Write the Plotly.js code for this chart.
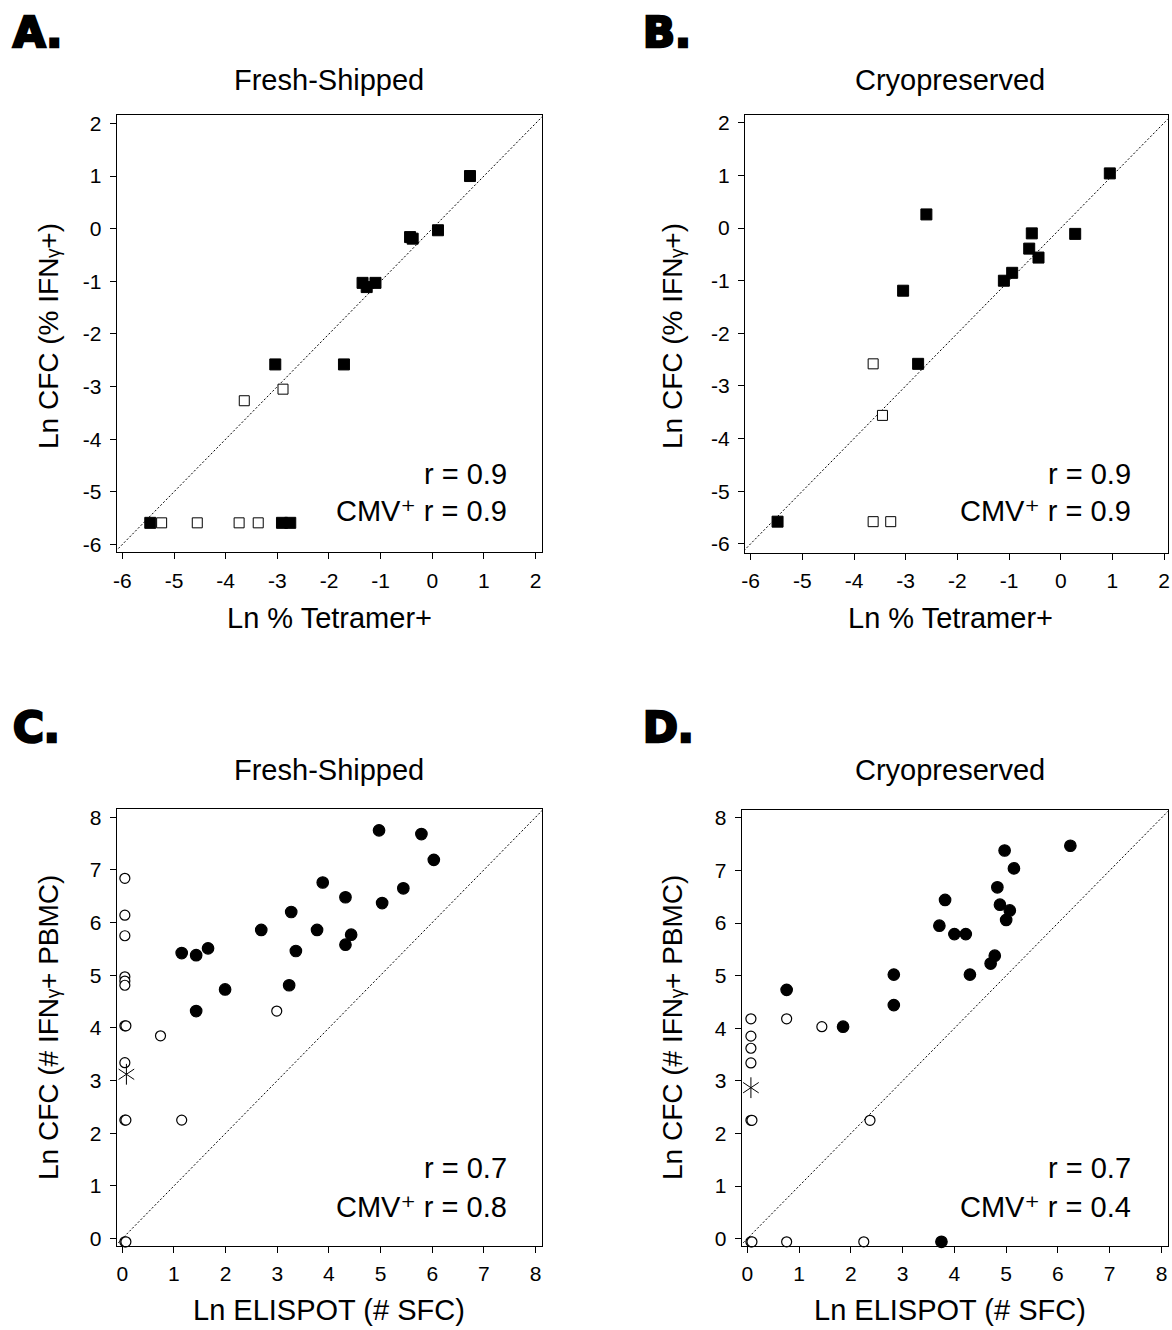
<!DOCTYPE html>
<html>
<head>
<meta charset="utf-8">
<script src="https://cdn.plot.ly/plotly-3.0.1.min.js"></script>
<style>html,body{margin:0;padding:0;background:#fff;}#chart{width:1172px;height:1330px;}</style>
</head>
<body>
<div id="chart"></div>
<script>
// ---------- DATA ----------
// Panel A: Fresh-Shipped, Ln % Tetramer+ vs Ln CFC (% IFNγ+)
const aFilledX = [0.73, 0.11, -0.43, -0.38, -1.35, -1.27, -1.10, -3.04, -1.71, -5.46, -2.91, -2.75];
const aFilledY = [1.00, -0.03, -0.16, -0.19, -1.03, -1.11, -1.03, -2.58, -2.58, -5.59, -5.59, -5.59];
const aOpenX = [-3.64, -2.89, -5.24, -4.55, -3.74, -3.37];
const aOpenY = [-3.27, -3.05, -5.59, -5.59, -5.59, -5.59];
// Panel B: Cryopreserved
const bFilledX = [0.95, -2.60, -0.56, 0.28, -0.61, -0.43, -0.94, -1.10, -3.05, -2.76, -5.48];
const bFilledY = [1.04, 0.26, -0.10, -0.11, -0.39, -0.56, -0.85, -1.00, -1.19, -2.58, -5.58];
const bOpenX = [-3.63, -3.45, -3.63, -3.29];
const bOpenY = [-2.58, -3.56, -5.58, -5.58];
// Panel C: Fresh-Shipped, Ln ELISPOT vs Ln CFC (# IFNγ+ PBMC)
const cFilledX = [4.97, 5.79, 6.03, 3.88, 5.44, 4.32, 5.03, 3.27, 2.69, 3.77, 4.43, 4.32, 3.36, 1.66, 1.15, 1.43, 1.99, 3.23, 1.43];
const cFilledY = [7.75, 7.68, 7.19, 6.76, 6.65, 6.48, 6.37, 6.20, 5.86, 5.86, 5.77, 5.58, 5.46, 5.51, 5.42, 5.38, 4.73, 4.81, 4.32];
const cOpenX = [0.05, 0.05, 0.05, 0.05, 0.05, 0.05, 0.05, 0.07, 0.05, 0.05, 0.07, 0.05, 0.07, 0.74, 1.15, 2.99];
const cOpenY = [6.84, 6.14, 5.75, 4.97, 4.89, 4.81, 4.04, 4.04, 3.34, 2.25, 2.25, -0.06, -0.06, 3.85, 2.25, 4.32];
const cStarX = [0.08];
const cStarY = [3.12];
// Panel D: Cryopreserved
const dFilledX = [6.24, 4.97, 5.15, 4.83, 3.82, 4.88, 5.07, 5.00, 3.71, 4.00, 4.22, 4.78, 4.70, 2.83, 4.30, 0.76, 2.83, 1.85, 3.75];
const dFilledY = [7.47, 7.38, 7.04, 6.68, 6.44, 6.35, 6.24, 6.06, 5.95, 5.79, 5.79, 5.38, 5.23, 5.02, 5.02, 4.73, 4.44, 4.03, -0.06];
const dOpenX = [0.07, 0.76, 1.44, 0.07, 0.07, 0.07, 0.07, 0.09, 2.37, 0.07, 0.09, 0.76, 2.25];
const dOpenY = [4.18, 4.18, 4.03, 3.85, 3.62, 3.34, 2.25, 2.25, 2.25, -0.06, -0.06, -0.06, -0.06];
const dStarX = [0.07];
const dStarY = [2.87];
// identity line endpoints
const idTop = [-7, 3];
const idBottom = [-1, 9];
// tick labels
const tickValsTop = [-6, -5, -4, -3, -2, -1, 0, 1, 2];
const tickTextTop = ['-6', '-5', '-4', '-3', '-2', '-1', '0', '1', '2'];
const tickValsBottom = [0, 1, 2, 3, 4, 5, 6, 7, 8];
const tickTextBottom = ['0', '1', '2', '3', '4', '5', '6', '7', '8'];
// texts
const panelLetters = ['A.', 'B.', 'C.', 'D.'];
const panelTitles = ['Fresh-Shipped', 'Cryopreserved', 'Fresh-Shipped', 'Cryopreserved'];
const xTitles = ['Ln % Tetramer+', 'Ln % Tetramer+', 'Ln ELISPOT (# SFC)', 'Ln ELISPOT (# SFC)'];
const yTitles = ['Ln CFC (% IFNᵧ+)', 'Ln CFC (% IFNᵧ+)', 'Ln CFC (# IFNᵧ+ PBMC)', 'Ln CFC (# IFNᵧ+ PBMC)'];
const rAll = ['r = 0.9', 'r = 0.9', 'r = 0.7', 'r = 0.7'];
const rCmv = ['CMV⁺ r = 0.9', 'CMV⁺ r = 0.9', 'CMV⁺ r = 0.8', 'CMV⁺ r = 0.4'];

// ---------- BUILD ----------
const W = 1172, H = 1330;
const px = v => v / W;
const py = v => 1 - v / H;
const FONT = 'Liberation Sans, Arial, Helvetica, DejaVu Sans, sans-serif';

const traces = [];
function idLine(xa, ya, ends) {
  traces.push({x: ends, y: ends, xaxis: xa, yaxis: ya, mode: 'lines',
    line: {color: '#000', width: 1, dash: '2px,2px'}, hoverinfo: 'skip', showlegend: false});
}
function sq(xa, ya, X, Y, filled) {
  traces.push({x: X, y: Y, xaxis: xa, yaxis: ya, mode: 'markers', showlegend: false, cliponaxis: false,
    marker: {symbol: 'square', size: filled ? 11 : 10, color: filled ? '#000' : '#fff',
      line: {color: '#000', width: 1}}});
}
function circ(xa, ya, X, Y, filled) {
  traces.push({x: X, y: Y, xaxis: xa, yaxis: ya, mode: 'markers', showlegend: false, cliponaxis: false,
    marker: {symbol: 'circle', size: filled ? 11.5 : 10, color: filled ? '#000' : '#fff',
      line: {color: '#000', width: 1.2}}});
}
function star(xa, ya, X, Y) {
  ['y-up-open', 'y-down-open'].forEach(s => traces.push({x: X, y: Y, xaxis: xa, yaxis: ya, mode: 'markers',
    showlegend: false, cliponaxis: false,
    marker: {symbol: s, size: 13, color: '#000', line: {color: '#000', width: 1}}}));
}

idLine('x', 'y', idTop);
sq('x', 'y', aOpenX, aOpenY, false);
sq('x', 'y', aFilledX, aFilledY, true);
idLine('x2', 'y2', idTop);
sq('x2', 'y2', bOpenX, bOpenY, false);
sq('x2', 'y2', bFilledX, bFilledY, true);
idLine('x3', 'y3', idBottom);
circ('x3', 'y3', cOpenX, cOpenY, false);
circ('x3', 'y3', cFilledX, cFilledY, true);
star('x3', 'y3', cStarX, cStarY);
idLine('x4', 'y4', idBottom);
circ('x4', 'y4', dOpenX, dOpenY, false);
circ('x4', 'y4', dFilledX, dFilledY, true);
star('x4', 'y4', dStarX, dStarY);

function ax(domain, range, vals, text, anchor, standoff) {
  return {domain, range, anchor, tickmode: 'array', tickvals: vals, ticktext: text,
    ticks: 'outside', ticklen: 6, tickwidth: 1, tickcolor: '#000', ticklabelstandoff: standoff,
    showline: true, mirror: true, linecolor: '#000', linewidth: 1,
    showgrid: false, zeroline: false, automargin: false,
    tickfont: {family: FONT, size: 21, color: '#000'}};
}
const layout = {
  width: W, height: H,
  margin: {l: 0, r: 0, t: 0, b: 0},
  paper_bgcolor: '#fff', plot_bgcolor: '#fff',
  showlegend: false,
  font: {family: FONT, color: '#000'},
  xaxis: ax([px(116.7), px(542.3)], [-6.11, 2.13], tickValsTop, tickTextTop, 'y', 3),
  yaxis: ax([py(552.3), py(115)], [-6.15, 2.16], tickValsTop, tickTextTop, 'x', 4),
  xaxis2: ax([px(745), px(1167.7)], [-6.11, 2.07], tickValsTop, tickTextTop, 'y2', 3),
  yaxis2: ax([py(552.7), py(115)], [-6.17, 2.15], tickValsTop, tickTextTop, 'x2', 4),
  xaxis3: ax([px(116.7), px(542.3)], [-0.108, 8.13], tickValsBottom, tickTextBottom, 'y3', 3),
  yaxis3: ax([py(1246), py(809.3)], [-0.14, 8.15], tickValsBottom, tickTextBottom, 'x3', 4),
  xaxis4: ax([px(741.7), px(1167.7)], [-0.108, 8.12], tickValsBottom, tickTextBottom, 'y4', 3),
  yaxis4: ax([py(1246), py(810)], [-0.14, 8.15], tickValsBottom, tickTextBottom, 'x4', 4),
  annotations: []
};

const letterPos = [[10, 33], [640, 33], [10, 727], [640, 727]];
const centerX = [329, 950, 329, 950];
const titleY = [80, 80, 770, 770];
const xTitleY = [618, 618, 1310, 1310];
const yTitleX = [48, 672, 48, 672];
const yTitleY = [336, 336, 1028, 1028];
const rRight = [509, 1133, 509, 1133];
const rY1 = [474, 474, 1168, 1168];
const rY2 = [511, 511, 1207, 1207];
const ann = layout.annotations;
function A(text, x, y, xanchor, size, extra) {
  ann.push(Object.assign({text, x: px(x), y: py(y), xref: 'paper', yref: 'paper', xanchor, yanchor: 'middle',
    showarrow: false, font: {family: FONT, size, color: '#000'}}, extra || {}));
}
for (let i = 0; i < 4; i++) {
  A(panelLetters[i], letterPos[i][0] + 1, letterPos[i][1], 'left', 42,
    {font: {family: 'DejaVu Sans, sans-serif', size: 42, color: '#000', weight: 'bold'}});
  A(panelTitles[i], centerX[i], titleY[i], 'center', 29);
  A(xTitles[i], centerX[i], xTitleY[i], 'center', 29);
  A(yTitles[i], yTitleX[i], yTitleY[i], 'center', 28, {textangle: -90});
  A(rAll[i], rRight[i], rY1[i], 'right', 29);
  A(rCmv[i], rRight[i], rY2[i], 'right', 29);
}

Plotly.newPlot('chart', traces, layout, {staticPlot: true, displayModeBar: false}).then(gd => {
  // heavier panel letters (black-weight look)
  gd.querySelectorAll('text.annotation-text').forEach(t => {
    if (panelLetters.indexOf(t.textContent) >= 0) {
      t.style.stroke = '#000';
      t.style.strokeWidth = '2.6px';
      t.style.strokeLinejoin = 'miter';
    }
  });
});
</script>
</body>
</html>
